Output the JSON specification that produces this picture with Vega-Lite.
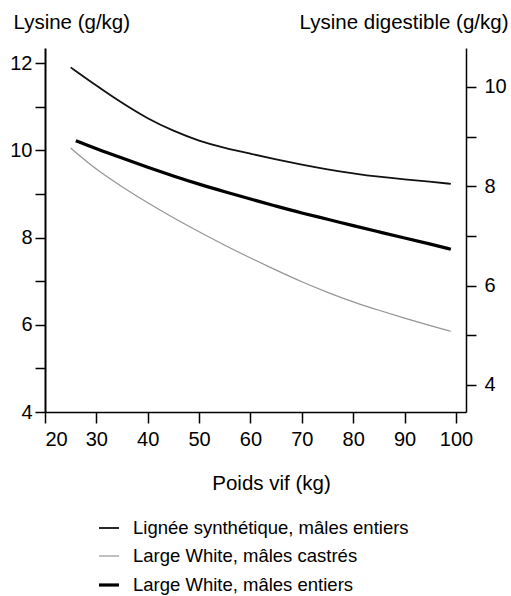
{
  "$schema": "https://vega.github.io/schema/vega-lite/v6.json",
  "autosize": "none",
  "width": 421,
  "height": 364,
  "padding": {"left": 45, "top": 48, "right": 45, "bottom": 184},
  "background": "white",
  "config": {
    "view": {"stroke": null},
    "font": "Liberation Sans",
    "axis": {
      "domainColor": "black", "tickColor": "black", "labelColor": "black", "titleColor": "black",
      "labelFont": "Liberation Sans", "titleFont": "Liberation Sans",
      "labelFontSize": 20, "titleFontSize": 20.5, "titleFontWeight": "normal",
      "grid": false, "domainWidth": 1.5, "tickWidth": 1.5, "tickSize": 10
    },
    "legend": {
      "labelFont": "Liberation Sans", "labelFontSize": 18.5, "labelColor": "black", "labelLimit": 0
    }
  },
  "data": {"values": [
    {"series": "Lignée synthétique, mâles entiers", "poids": 25, "lysine": 11.9},
    {"series": "Lignée synthétique, mâles entiers", "poids": 30, "lysine": 11.48},
    {"series": "Lignée synthétique, mâles entiers", "poids": 35, "lysine": 11.08},
    {"series": "Lignée synthétique, mâles entiers", "poids": 40, "lysine": 10.72},
    {"series": "Lignée synthétique, mâles entiers", "poids": 45, "lysine": 10.44},
    {"series": "Lignée synthétique, mâles entiers", "poids": 50, "lysine": 10.21},
    {"series": "Lignée synthétique, mâles entiers", "poids": 55, "lysine": 10.05},
    {"series": "Lignée synthétique, mâles entiers", "poids": 60, "lysine": 9.92},
    {"series": "Lignée synthétique, mâles entiers", "poids": 65, "lysine": 9.79},
    {"series": "Lignée synthétique, mâles entiers", "poids": 70, "lysine": 9.67},
    {"series": "Lignée synthétique, mâles entiers", "poids": 75, "lysine": 9.56},
    {"series": "Lignée synthétique, mâles entiers", "poids": 80, "lysine": 9.47},
    {"series": "Lignée synthétique, mâles entiers", "poids": 85, "lysine": 9.39},
    {"series": "Lignée synthétique, mâles entiers", "poids": 90, "lysine": 9.33},
    {"series": "Lignée synthétique, mâles entiers", "poids": 95, "lysine": 9.28},
    {"series": "Lignée synthétique, mâles entiers", "poids": 99, "lysine": 9.23},
    {"series": "Large White, mâles castrés", "poids": 25, "lysine": 10.05},
    {"series": "Large White, mâles castrés", "poids": 30, "lysine": 9.55},
    {"series": "Large White, mâles castrés", "poids": 35, "lysine": 9.16},
    {"series": "Large White, mâles castrés", "poids": 40, "lysine": 8.79},
    {"series": "Large White, mâles castrés", "poids": 45, "lysine": 8.45},
    {"series": "Large White, mâles castrés", "poids": 50, "lysine": 8.13},
    {"series": "Large White, mâles castrés", "poids": 55, "lysine": 7.82},
    {"series": "Large White, mâles castrés", "poids": 60, "lysine": 7.53},
    {"series": "Large White, mâles castrés", "poids": 65, "lysine": 7.25},
    {"series": "Large White, mâles castrés", "poids": 70, "lysine": 6.98},
    {"series": "Large White, mâles castrés", "poids": 75, "lysine": 6.74},
    {"series": "Large White, mâles castrés", "poids": 80, "lysine": 6.52},
    {"series": "Large White, mâles castrés", "poids": 85, "lysine": 6.33},
    {"series": "Large White, mâles castrés", "poids": 90, "lysine": 6.15},
    {"series": "Large White, mâles castrés", "poids": 95, "lysine": 5.98},
    {"series": "Large White, mâles castrés", "poids": 99, "lysine": 5.85},
    {"series": "Large White, mâles entiers", "poids": 26, "lysine": 10.22},
    {"series": "Large White, mâles entiers", "poids": 30, "lysine": 10.03},
    {"series": "Large White, mâles entiers", "poids": 35, "lysine": 9.82},
    {"series": "Large White, mâles entiers", "poids": 40, "lysine": 9.61},
    {"series": "Large White, mâles entiers", "poids": 45, "lysine": 9.41},
    {"series": "Large White, mâles entiers", "poids": 50, "lysine": 9.22},
    {"series": "Large White, mâles entiers", "poids": 55, "lysine": 9.05},
    {"series": "Large White, mâles entiers", "poids": 60, "lysine": 8.88},
    {"series": "Large White, mâles entiers", "poids": 65, "lysine": 8.72},
    {"series": "Large White, mâles entiers", "poids": 70, "lysine": 8.56},
    {"series": "Large White, mâles entiers", "poids": 75, "lysine": 8.42},
    {"series": "Large White, mâles entiers", "poids": 80, "lysine": 8.27},
    {"series": "Large White, mâles entiers", "poids": 85, "lysine": 8.13},
    {"series": "Large White, mâles entiers", "poids": 90, "lysine": 7.99},
    {"series": "Large White, mâles entiers", "poids": 95, "lysine": 7.85},
    {"series": "Large White, mâles entiers", "poids": 99, "lysine": 7.73}
  ]},
  "encoding": {
    "x": {
      "field": "poids", "type": "quantitative",
      "scale": {"domain": [20, 101.95], "nice": false, "zero": false},
      "axis": {
        "values": [20, 30, 40, 50, 60, 70, 80, 90, 100],
        "title": "Poids vif (kg)",
        "titleX": 226, "titleY": 77, "titleAlign": "center", "titleBaseline": "alphabetic",
        "labelPadding": 6, "tickSize": 11
      }
    }
  },
  "layer": [
    {
      "mark": {"type": "line", "interpolate": "basis"},
      "encoding": {
        "y": {
          "field": "lysine", "type": "quantitative",
          "scale": {"domain": [4, 12.344], "nice": false, "zero": false},
          "axis": {
            "orient": "left",
            "values": [4, 5, 6, 7, 8, 9, 10, 11, 12],
            "labelExpr": "datum.value % 2 == 0 ? datum.label : ''",
            "title": "Lysine (g/kg)",
            "titleAngle": 0, "titleX": -32, "titleY": -20,
            "titleAlign": "left", "titleBaseline": "alphabetic",
            "labelPadding": 3, "domainWidth": 2
          }
        },
        "color": {
          "field": "series", "type": "nominal",
          "scale": {
            "domain": ["Lignée synthétique, mâles entiers", "Large White, mâles castrés", "Large White, mâles entiers"],
            "range": ["#111111", "#959595", "#000000"]
          },
          "legend": {
            "orient": "none", "legendX": 52, "legendY": 469,
            "title": null, "symbolType": "stroke", "symbolSize": 400,
            "rowPadding": 7, "labelOffset": 12
          }
        },
        "strokeWidth": {
          "field": "series", "type": "nominal",
          "scale": {
            "type": "ordinal",
            "domain": ["Lignée synthétique, mâles entiers", "Large White, mâles castrés", "Large White, mâles entiers"],
            "range": [1.8, 1.2, 3.2]
          }
        },
        "order": {"field": "poids"}
      }
    },
    {
      "mark": {"type": "line", "strokeOpacity": 0},
      "encoding": {
        "y": {
          "field": "lysine", "type": "quantitative",
          "scale": {"domain": [3.456, 10.785], "nice": false, "zero": false},
          "axis": {
            "orient": "right",
            "values": [4, 5, 6, 7, 8, 9, 10],
            "labelExpr": "datum.value % 2 == 0 ? datum.label : ''",
            "title": "Lysine digestible (g/kg)",
            "titleAngle": 0, "titleX": 42, "titleY": -20,
            "titleAlign": "right", "titleBaseline": "alphabetic",
            "labelPadding": 8
          }
        },
        "detail": {"field": "series", "type": "nominal"}
      }
    }
  ],
  "resolve": {"scale": {"y": "independent"}}
}
